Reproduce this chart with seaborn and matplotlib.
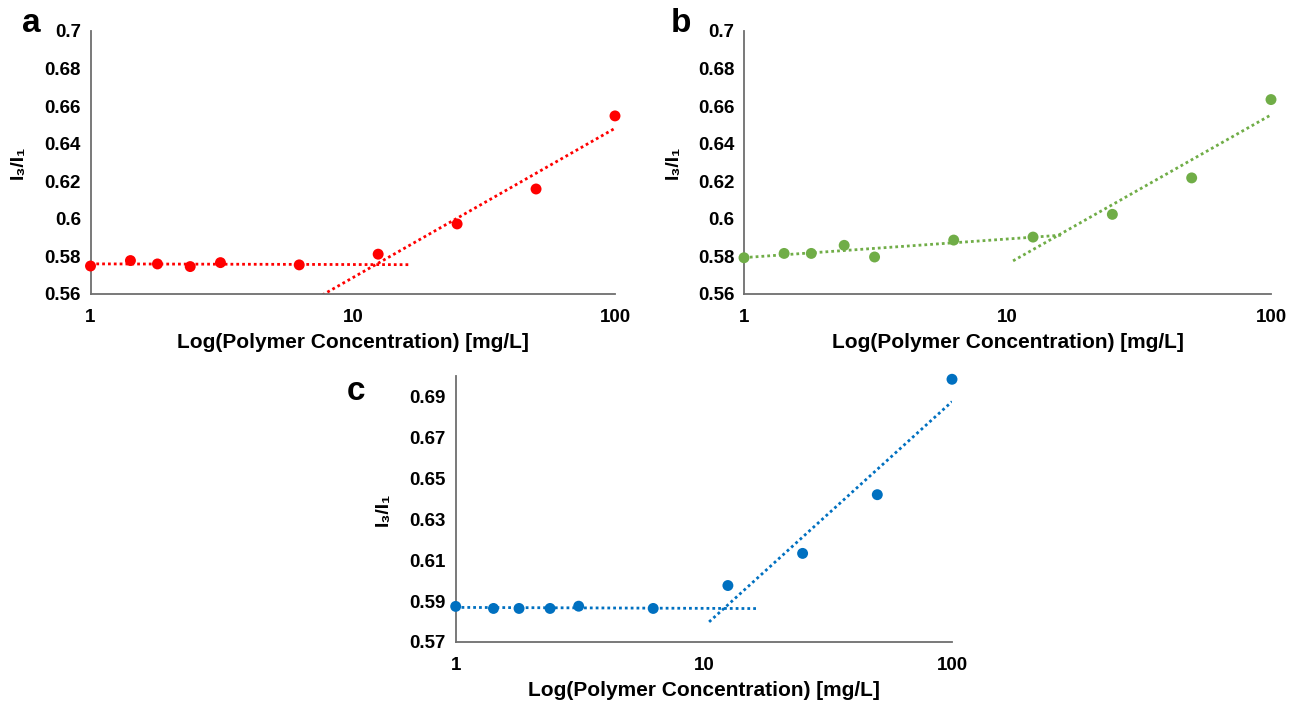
import numpy as np
import pandas as pd
import matplotlib
matplotlib.use("Agg")
import matplotlib.pyplot as plt
import seaborn as sns

# ---- data ----
conc = [1, 1.42, 1.8, 2.4, 3.13, 6.25, 12.5, 25, 50, 100]
ratio_a = [0.5749, 0.5778, 0.5760, 0.5746, 0.5767, 0.5755, 0.5812, 0.5973, 0.6159, 0.6548]
ratio_b = [0.5793, 0.5816, 0.5816, 0.5859, 0.5797, 0.5887, 0.5903, 0.6024, 0.6218, 0.6635]
ratio_c = [0.5874, 0.5864, 0.5864, 0.5864, 0.5875, 0.5864, 0.5976, 0.6133, 0.6420, 0.6984]
low_n = [6, 7, 6]            # points used by the low-concentration trend line
high_start = [6, 6, 6]       # first point of the high-concentration trend line
low_end = [16.5, 16.0, 16.4]  # forward forecast of the low trend line
high_begin = [7.0, 10.5, 10.5]  # backward forecast of the high trend line
colors = ["#FF0000", "#70AD47", "#0070C0"]
letters = ["a", "b", "c"]
ylims = [(0.56, 0.70), (0.56, 0.70), (0.57, 0.70)]
yticks = [np.arange(0.56, 0.7001, 0.02), np.arange(0.56, 0.7001, 0.02), np.arange(0.57, 0.6901, 0.02)]
xlabel = "Log(Polymer Concentration) [mg/L]"
ylabel = "I\u2083/I\u2081"

sns.set_style("white")
plt.rcParams["font.family"] = ["Liberation Sans", "DejaVu Sans"]
plt.rcParams["font.weight"] = "bold"
plt.rcParams["text.color"] = "black"
plt.rcParams["axes.labelcolor"] = "black"

fig = plt.figure(figsize=(12.89, 7.07), dpi=100)
positions = [
    [90.5 / 1289, 1 - 294 / 707, (615 - 90.5) / 1289, (294 - 31) / 707],
    [744 / 1289, 1 - 294 / 707, (1271 - 744) / 1289, (294 - 31) / 707],
    [455.7 / 1289, 1 - 642 / 707, (952 - 455.7) / 1289, (642 - 376) / 707],
]
letter_pos = [(31 / 1289, 1 - 24 / 707), (681 / 1289, 1 - 24 / 707), (356 / 1289, 1 - 391 / 707)]
ylabel_x = [18, 673, 383]

series = [ratio_a, ratio_b, ratio_c]
spine_col = "#6E6E6E"
for i in range(3):
    ax = fig.add_axes(positions[i])
    y = np.array(series[i])
    x = np.array(conc)
    df = pd.DataFrame({"conc": x, "ratio": y})
    # trend lines (log fits)
    lx = np.log10(x)
    p1 = np.polyfit(lx[:low_n[i]], y[:low_n[i]], 1)
    xs1 = np.array([1.0, low_end[i]])
    p2 = np.polyfit(lx[high_start[i]:], y[high_start[i]:], 1)
    xs2 = np.array([high_begin[i], 100.0])
    for xs, p in [(xs1, p1), (xs2, p2)]:
        ax.plot(xs, np.polyval(p, np.log10(xs)), color=colors[i], lw=2.0,
                linestyle=(0, (1, 1.1)), zorder=2)
    sns.scatterplot(data=df, x="conc", y="ratio", ax=ax, color=colors[i], s=62,
                    edgecolor="none", zorder=3, clip_on=False)
    ax.set_xscale("log")
    ax.set_xlim(1, 100)
    ax.set_ylim(*ylims[i])
    ax.set_xticks([1, 10, 100])
    ax.set_xticklabels(["1", "10", "100"])
    ax.xaxis.set_minor_locator(matplotlib.ticker.NullLocator())
    ax.set_yticks(yticks[i])
    ax.set_yticklabels([f"{v:g}" for v in np.round(yticks[i], 2)])
    for s in ["top", "right"]:
        ax.spines[s].set_visible(False)
    for s in ["left", "bottom"]:
        ax.spines[s].set_color(spine_col)
        ax.spines[s].set_linewidth(1.3)
    ax.tick_params(axis="both", direction="in", length=4, width=1.2, color=spine_col,
                   labelsize=13.5, labelcolor="black")
    ax.tick_params(axis="y", pad=7)
    ax.tick_params(axis="x", pad=11)
    for lab in ax.get_xticklabels() + ax.get_yticklabels():
        lab.set_fontweight("bold")
    ax.set_xlabel(xlabel, fontsize=15, fontweight="bold", labelpad=5, color="black")
    ax.set_ylabel("")
    pos = positions[i]
    fig.text(ylabel_x[i] / 1289, pos[1] + pos[3] / 2, ylabel, rotation=90,
             ha="center", va="center", fontsize=14, fontweight="bold", color="black")
    fig.text(letter_pos[i][0], letter_pos[i][1], letters[i], ha="center", va="center",
             fontsize=24, fontweight="bold", color="black")

fig.savefig("out.png", dpi=100)
